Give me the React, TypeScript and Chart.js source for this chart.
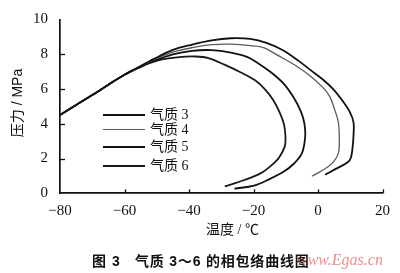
import React, { useEffect, useRef } from "react";
import { Chart, registerables } from "chart.js";

Chart.register(...registerables);

// ---- data (temperature °C, pressure MPa) ----
const seriesNames = ["气质 3", "气质 4", "气质 5", "气质 6"];

const gas3T = [-80, -75, -70, -65, -60, -56, -51, -45, -39, -33, -27, -21, -16, -11, -6, -2.4, 1.5, 4.7, 7.5, 9.8, 11.0, 11.0, 10.7, 10.2, 9.3, 6, 2.2];
const gas3P = [4.5, 5.08, 5.65, 6.25, 6.82, 7.22, 7.72, 8.25, 8.56, 8.8, 8.92, 8.88, 8.66, 8.25, 7.62, 7.1, 6.55, 6.0, 5.35, 4.7, 4.1, 3.3, 2.6, 2.05, 1.8, 1.45, 1.07];

const gas4T = [-80, -75, -70, -65, -60, -56, -51, -45, -39, -33, -27, -21, -16.7, -12.6, -6.5, -2.4, 1.7, 3.7, 5.2, 6.3, 6.6, 6.3, 4.2, 1.2, -1.9];
const gas4P = [4.5, 5.08, 5.65, 6.25, 6.82, 7.22, 7.68, 8.12, 8.38, 8.55, 8.58, 8.5, 8.37, 7.95, 7.3, 6.75, 6.05, 5.55, 4.8, 4.1, 3.3, 2.3, 1.69, 1.3, 0.98];

const gas5T = [-80, -75, -70, -65, -60, -56, -51, -45, -39, -33, -27, -22, -18.7, -14.5, -10.6, -7.5, -5.3, -4.2, -4, -5, -7.5, -10.6, -15.2, -19.8, -25.9];
const gas5P = [4.5, 5.08, 5.65, 6.25, 6.82, 7.2, 7.62, 8.0, 8.2, 8.24, 8.1, 7.85, 7.5, 6.95, 6.3, 5.5, 4.7, 4.0, 3.2, 2.3, 1.7, 1.25, 0.8, 0.44, 0.27];

const gas6T = [-80, -75, -70, -65, -60, -56, -52, -48, -43, -38, -34, -29, -23.9, -19.5, -16.5, -14, -12, -10.6, -10.1, -10.3, -12.1, -14.5, -17.7, -23, -28.9];
const gas6P = [4.5, 5.08, 5.65, 6.25, 6.82, 7.18, 7.5, 7.72, 7.84, 7.87, 7.78, 7.4, 6.95, 6.5, 6.0, 5.4, 4.7, 4.0, 3.3, 2.7, 2.05, 1.6, 1.16, 0.75, 0.4];

const seriesT = [gas3T, gas4T, gas5T, gas6T];
const seriesP = [gas3P, gas4P, gas5P, gas6P];
const seriesColors = ["#111111", "#5a5a5a", "#111111", "#1a1a1a"];
const seriesWidths = [1.8, 1.3, 1.8, 1.8];

const xTickMarks = [-60, -40, -20, 0, 20];
const yTickMarks = [2, 4, 6, 8];

const xTitle = "温度 / ℃";
const yTitle = "压力 / MPa";
const captionA = "图 3";
const captionB = "气质 3～6 的相包络曲线图";
const watermark = "www.Egas.cn";

const serifFamily = "'Times New Roman', 'Liberation Serif', 'DejaVu Serif', serif";

const innerTicks = {
  id: "innerTicks",
  afterDraw(chart: any) {
    const { ctx, chartArea, scales } = chart;
    const x = scales.x;
    const y = scales.y;
    ctx.save();
    ctx.strokeStyle = "#111";
    ctx.lineWidth = 1.3;
    for (const v of xTickMarks) {
      const px = Math.round(x.getPixelForValue(v)) + 0.5;
      ctx.beginPath();
      ctx.moveTo(px, chartArea.bottom);
      ctx.lineTo(px, chartArea.bottom - 4);
      ctx.stroke();
    }
    for (const v of yTickMarks) {
      const py = Math.round(y.getPixelForValue(v)) + 0.5;
      ctx.beginPath();
      ctx.moveTo(chartArea.left, py);
      ctx.lineTo(chartArea.left + 5, py);
      ctx.stroke();
    }
    ctx.restore();
  },
};

export default function App() {
  const ref = useRef<HTMLCanvasElement | null>(null);

  useEffect(() => {
    document.body.style.margin = "0";
    const canvas = ref.current;
    if (!canvas) return;
    const datasets = seriesNames.map((name, i) => ({
      label: name,
      data: seriesT[i].map((t, j) => ({ x: t, y: seriesP[i][j] })),
      borderColor: seriesColors[i],
      borderWidth: seriesWidths[i],
      pointRadius: 0,
      fill: false,
      tension: 0.35,
    }));
    const tickFont = { family: serifFamily, size: 15, lineHeight: 1 };
    const chart = new Chart(canvas, {
      type: "line",
      data: { datasets },
      plugins: [innerTicks],
      options: {
        animation: false,
        responsive: false,
        maintainAspectRatio: false,
        layout: { padding: { left: 0, right: 13.5, top: 6.3, bottom: 0 } },
        plugins: { legend: { display: false }, tooltip: { enabled: false } },
        scales: {
          x: {
            type: "linear",
            min: -80,
            max: 20,
            afterFit: (s: any) => {
              s.height = 79.7;
            },
            ticks: {
              stepSize: 20,
              color: "#111",
              font: tickFont,
              padding: 10,
              maxRotation: 0,
              callback: (v: any) => String(v).replace("-", "−"),
            },
            grid: { display: true, drawOnChartArea: false, drawTicks: false },
            border: { display: true, color: "#111", width: 1.7 },
          },
          y: {
            type: "linear",
            min: 0,
            max: 10,
            afterFit: (s: any) => {
              s.width = 60;
            },
            ticks: { stepSize: 2, color: "#111", font: tickFont, padding: 12 },
            grid: { display: true, drawOnChartArea: false, drawTicks: false },
            border: { display: true, color: "#111", width: 1.7 },
          },
        },
      },
    });
    return () => chart.destroy();
  }, []);

  const cjk = "'Times New Roman', 'Liberation Serif', 'Noto Sans CJK SC', serif";

  return (
    <div style={{ position: "relative", width: 400, height: 273, background: "#fff", overflow: "hidden" }}>
      <canvas ref={ref} width={400} height={273} style={{ position: "absolute", left: 0, top: 0, width: 400, height: 273 }} />
      <div
        style={{
          position: "absolute",
          left: 17,
          top: 103,
          transform: "translate(-50%, -50%) rotate(-90deg)",
          whiteSpace: "nowrap",
          fontFamily: "'Liberation Sans', 'Noto Sans CJK SC', sans-serif",
          fontSize: 14,
          color: "#111",
          lineHeight: 1,
        }}
      >
        {yTitle}
      </div>
      <div
        style={{
          position: "absolute",
          left: 206,
          top: 230,
          transform: "translateY(-50%)",
          whiteSpace: "nowrap",
          fontFamily: cjk,
          fontSize: 14,
          color: "#111",
          lineHeight: 1,
        }}
      >
        {xTitle}
      </div>
      {seriesNames.map((name, i) => {
        const rowY = [115, 129.5, 146.7, 165.5][i];
        return (
          <React.Fragment key={name}>
            <div
              style={{
                position: "absolute",
                left: 103,
                top: rowY - seriesWidths[i] / 2,
                width: 42,
                height: seriesWidths[i] + 0.2,
                background: seriesColors[i],
              }}
            />
            <div
              style={{
                position: "absolute",
                left: 150,
                top: rowY,
                transform: "translateY(-50%)",
                whiteSpace: "pre",
                fontFamily: cjk,
                fontSize: 14,
                color: "#111",
                lineHeight: 1,
              }}
            >
              {name}
            </div>
          </React.Fragment>
        );
      })}
      <div
        style={{
          position: "absolute",
          left: 92,
          top: 261,
          transform: "translateY(-50%)",
          whiteSpace: "pre",
          fontFamily: "'Liberation Sans', 'Noto Sans CJK SC', sans-serif",
          fontWeight: "bold",
          fontSize: 14,
          color: "#111",
          lineHeight: 1,
          letterSpacing: 1,
        }}
      >
        {captionA}
      </div>
      <div
        style={{
          position: "absolute",
          left: 135,
          top: 261,
          transform: "translateY(-50%)",
          whiteSpace: "pre",
          fontFamily: "'Liberation Sans', 'Noto Sans CJK SC', sans-serif",
          fontWeight: "bold",
          fontSize: 14,
          color: "#111",
          lineHeight: 1,
          letterSpacing: 0.8,
        }}
      >
        {captionB}
      </div>
      <div
        style={{
          position: "absolute",
          left: 297,
          top: 260,
          transform: "translateY(-50%)",
          whiteSpace: "pre",
          fontFamily: serifFamily,
          fontStyle: "italic",
          fontSize: 16,
          color: "rgba(215, 70, 70, 0.6)",
          lineHeight: 1,
        }}
      >
        {watermark}
      </div>
    </div>
  );
}
